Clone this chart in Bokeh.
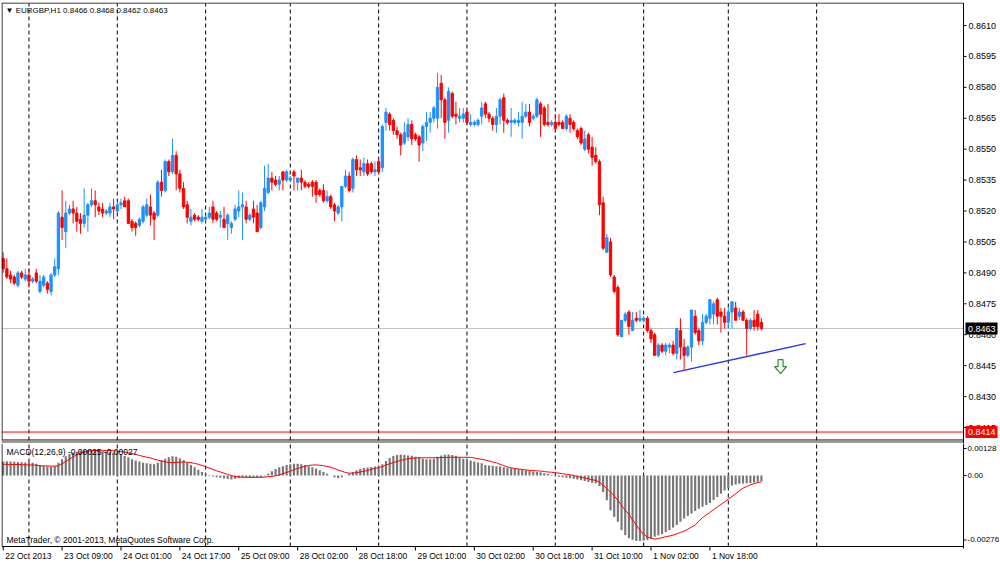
from bokeh.plotting import figure
from bokeh.layouts import column
from bokeh.models import ColumnDataSource, Label, Range1d
from bokeh.embed import file_html
from bokeh.resources import INLINE
from bokeh.core.properties import value

# ---------------- data (prices in pips: 8497 -> 0.8497) ----------------
opens = [
    8497, 8492, 8489, 8488, 8484, 8490, 8487, 8489, 8486, 8490,
    8481, 8484, 8485, 8481, 8489, 8492, 8517, 8510, 8519, 8521,
    8519, 8516, 8514, 8518, 8523, 8525, 8522, 8521, 8519, 8519,
    8522, 8520, 8523, 8525, 8525, 8515, 8514, 8513, 8515, 8518,
    8522, 8519, 8518, 8534, 8530, 8544, 8539, 8547, 8538, 8531,
    8523, 8515, 8518, 8517, 8515, 8516, 8517, 8522, 8519, 8517,
    8516, 8514, 8512, 8516, 8520, 8522, 8522, 8516, 8521, 8519,
    8512, 8522, 8529, 8536, 8535, 8533, 8539, 8535, 8535, 8539,
    8534, 8536, 8534, 8533, 8534, 8534, 8530, 8530, 8525, 8527,
    8523, 8519, 8522, 8532, 8537, 8531, 8545, 8541, 8539, 8543,
    8543, 8539, 8544, 8541, 8563, 8567, 8564, 8559, 8557, 8553,
    8556, 8562, 8557, 8556, 8553, 8561, 8563, 8565, 8565, 8582,
    8574, 8564, 8577, 8567, 8565, 8565, 8568, 8562, 8562, 8562,
    8566, 8572, 8567, 8565, 8562, 8566, 8575, 8564, 8563, 8563,
    8563, 8563, 8566, 8568, 8565, 8566, 8572, 8570, 8563, 8562,
    8563, 8563, 8563, 8560, 8565, 8563, 8559, 8560, 8550, 8557,
    8551, 8547, 8544, 8524, 8500, 8505, 8488, 8483, 8459, 8467,
    8471, 8462, 8468, 8467, 8467, 8468, 8462, 8460, 8450, 8455,
    8452, 8454, 8455, 8451, 8462, 8454, 8450, 8454, 8469, 8462,
    8457, 8466, 8468, 8470, 8477, 8471, 8469, 8466, 8471, 8473,
    8469, 8471, 8467, 8463, 8467, 8470, 8466,
]
highs = [
    8500, 8497, 8491, 8489, 8491, 8491, 8492, 8492, 8488, 8492,
    8489, 8489, 8486, 8490, 8497, 8520, 8530, 8525, 8523, 8525,
    8522, 8519, 8531, 8524, 8531, 8530, 8524, 8524, 8521, 8524,
    8526, 8524, 8526, 8527, 8526, 8516, 8515, 8517, 8523, 8526,
    8528, 8520, 8535, 8540, 8545, 8545, 8555, 8549, 8540, 8534,
    8525, 8521, 8519, 8518, 8521, 8518, 8522, 8525, 8520, 8520,
    8522, 8519, 8515, 8523, 8530, 8529, 8525, 8519, 8525, 8523,
    8525, 8542, 8543, 8539, 8537, 8537, 8539, 8540, 8537, 8540,
    8536, 8540, 8535, 8534, 8535, 8535, 8531, 8533, 8530, 8528,
    8524, 8523, 8532, 8540, 8539, 8546, 8547, 8545, 8546, 8545,
    8544, 8544, 8546, 8562, 8570, 8568, 8565, 8561, 8558, 8563,
    8565, 8564, 8558, 8557, 8562, 8568, 8568, 8571, 8587, 8586,
    8575, 8580, 8578, 8573, 8570, 8570, 8569, 8567, 8564, 8565,
    8573, 8573, 8568, 8566, 8570, 8575, 8577, 8565, 8570, 8565,
    8568, 8573, 8572, 8572, 8567, 8575, 8573, 8571, 8572, 8564,
    8567, 8567, 8564, 8567, 8567, 8564, 8560, 8561, 8559, 8558,
    8556, 8551, 8545, 8527, 8509, 8507, 8489, 8484, 8467, 8471,
    8472, 8471, 8471, 8472, 8469, 8469, 8463, 8461, 8456, 8456,
    8456, 8456, 8457, 8463, 8468, 8458, 8455, 8472, 8472, 8463,
    8470, 8470, 8477, 8476, 8478, 8473, 8473, 8473, 8476, 8476,
    8473, 8472, 8468, 8468, 8472, 8472, 8468,
]
lows = [
    8490, 8487, 8485, 8484, 8483, 8487, 8486, 8483, 8485, 8485,
    8480, 8483, 8480, 8479, 8488, 8489, 8506, 8502, 8518, 8514,
    8510, 8509, 8512, 8510, 8522, 8517, 8518, 8517, 8518, 8517,
    8516, 8519, 8521, 8522, 8514, 8510, 8508, 8512, 8514, 8517,
    8513, 8506, 8517, 8527, 8529, 8537, 8538, 8530, 8529, 8521,
    8514, 8513, 8515, 8515, 8514, 8515, 8516, 8514, 8515, 8512,
    8512, 8506, 8509, 8515, 8517, 8506, 8514, 8515, 8514, 8510,
    8511, 8520, 8528, 8530, 8532, 8530, 8530, 8534, 8534, 8530,
    8530, 8530, 8531, 8531, 8527, 8524, 8527, 8524, 8524, 8521,
    8515, 8518, 8515, 8531, 8529, 8529, 8537, 8537, 8537, 8537,
    8538, 8537, 8538, 8539, 8559, 8559, 8557, 8555, 8547, 8552,
    8554, 8552, 8554, 8544, 8549, 8554, 8558, 8563, 8560, 8565,
    8555, 8558, 8565, 8562, 8563, 8563, 8562, 8561, 8561, 8561,
    8562, 8565, 8563, 8559, 8558, 8562, 8558, 8562, 8556, 8562,
    8561, 8555, 8565, 8561, 8564, 8565, 8556, 8561, 8561, 8561,
    8559, 8561, 8560, 8559, 8558, 8559, 8555, 8552, 8549, 8548,
    8542, 8543, 8518, 8501, 8500, 8488, 8480, 8459, 8459, 8466,
    8460, 8462, 8466, 8466, 8466, 8461, 8456, 8450, 8449, 8451,
    8450, 8451, 8450, 8448, 8448, 8443, 8449, 8447, 8460, 8455,
    8455, 8465, 8465, 8465, 8465, 8461, 8463, 8463, 8463, 8467,
    8467, 8467, 8450, 8462, 8462, 8462, 8462,
]
closes = [
    8492, 8488, 8487, 8485, 8490, 8488, 8489, 8486, 8487, 8486,
    8486, 8488, 8482, 8489, 8493, 8519, 8512, 8519, 8521, 8519,
    8515, 8514, 8518, 8523, 8525, 8523, 8520, 8519, 8520, 8522,
    8521, 8523, 8524, 8522, 8514, 8512, 8512, 8516, 8522, 8523,
    8518, 8516, 8534, 8530, 8544, 8539, 8547, 8538, 8531, 8522,
    8517, 8517, 8516, 8516, 8517, 8517, 8519, 8516, 8516, 8518,
    8512, 8518, 8514, 8521, 8522, 8523, 8516, 8518, 8517, 8510,
    8524, 8531, 8536, 8534, 8533, 8535, 8535, 8539, 8536, 8537,
    8536, 8534, 8532, 8532, 8532, 8528, 8528, 8525, 8527, 8522,
    8520, 8522, 8532, 8537, 8530, 8545, 8540, 8540, 8543, 8538,
    8539, 8540, 8539, 8561, 8568, 8562, 8559, 8557, 8552, 8558,
    8562, 8555, 8555, 8552, 8561, 8563, 8565, 8570, 8580, 8574,
    8563, 8578, 8566, 8566, 8566, 8567, 8563, 8563, 8563, 8564,
    8570, 8567, 8565, 8562, 8566, 8574, 8564, 8563, 8564, 8564,
    8564, 8566, 8568, 8563, 8566, 8574, 8567, 8562, 8562, 8563,
    8560, 8562, 8560, 8566, 8562, 8560, 8556, 8553, 8555, 8550,
    8546, 8544, 8523, 8502, 8507, 8489, 8481, 8460, 8467, 8470,
    8464, 8467, 8467, 8468, 8468, 8462, 8458, 8450, 8455, 8452,
    8455, 8455, 8451, 8463, 8454, 8450, 8454, 8472, 8461, 8457,
    8466, 8469, 8477, 8475, 8469, 8469, 8466, 8471, 8476, 8467,
    8471, 8467, 8463, 8467, 8464, 8464, 8463,
]
# MACD(12,26,9) main (histogram) and signal, in units of 0.00001
macd_main = [
    60, 61, 60, 59, 58, 57, 56, 57, 55, 50,
    45, 41, 38, 36, 40, 55, 70, 82, 92, 98,
    102, 106, 108, 109, 110, 110, 108, 105, 103, 102,
    100, 98, 92, 85, 78, 70, 64, 60, 55, 52,
    50, 48, 55, 65, 72, 78, 82, 80, 74, 65,
    55, 45, 35, 25, 15, 7, 2, -4, -8, -10,
    -13, -15, -17, -14, -12, -10, -10, -10, -10, -9,
    -8, -3, 8, 18, 28, 35, 40, 45, 48, 50,
    50, 48, 45, 40, 35, 30, 22, 15, 8, 0,
    -8, -12, -8, 0, 8, 15, 22, 28, 32, 34,
    36, 38, 38, 48, 62, 75, 83, 88, 90, 88,
    86, 84, 80, 76, 72, 70, 70, 72, 80, 86,
    89, 90, 88, 84, 78, 72, 68, 64, 60, 56,
    52, 45, 43, 42, 40, 38, 35, 33, 31, 29,
    27, 25, 22, 20, 17, 15, 14, 10, 6, 2,
    -2, -5, -8, -10, -12, -14, -17, -20, -24, -28,
    -31, -33, -45, -71, -106, -149, -177, -198, -234, -255,
    -268, -275, -280, -280, -279, -276, -269, -262, -256, -251,
    -242, -234, -223, -212, -198, -184, -173, -163, -152, -142,
    -134, -126, -118, -105, -92, -78, -64, -54, -43, -38,
    -35, -34, -33, -32, -30, -27, -25,
]
macd_signal = [
    48, 48, 47, 47, 47, 46, 46, 45, 45, 44,
    42, 41, 41, 40, 40, 42, 50, 60, 70, 80,
    88, 95, 100, 104, 106, 107, 108, 108, 107, 107,
    106, 104, 102, 100, 97, 94, 90, 86, 82, 78,
    75, 70, 66, 62, 58, 56, 55, 56, 57, 58,
    57, 55, 52, 48, 43, 38, 32, 26, 20, 15,
    10, 5, 0, -5, -6, -7, -8, -8, -8, -8,
    -8, -7, -5, -4, -1, 2, 8, 13, 18, 25,
    30, 35, 40, 43, 45, 45, 44, 42, 39, 35,
    30, 24, 18, 13, 10, 10, 12, 15, 18, 22,
    26, 30, 34, 38, 45, 50, 55, 60, 65, 68,
    72, 74, 75, 76, 76, 76, 76, 76, 76, 77,
    77, 78, 78, 78, 78, 78, 78, 77, 75, 72,
    69, 66, 62, 58, 54, 48, 42, 37, 33, 30,
    28, 26, 24, 22, 21, 20, 19, 17, 15, 14,
    12, 10, 8, 5, 3, 0, -4, -8, -11, -14,
    -18, -21, -28, -42, -56, -71, -88, -106, -128, -149,
    -166, -190, -212, -234, -252, -263, -269, -272, -270, -266,
    -262, -259, -255, -250, -244, -238, -230, -221, -212, -196,
    -180, -169, -158, -146, -135, -124, -113, -101, -90, -78,
    -66, -54, -47, -40, -35, -30, -27,
]
price_ticks = [0.8610, 0.8595, 0.8580, 0.8565, 0.8550, 0.8535, 0.8520,
               0.8505, 0.8490, 0.8475, 0.8460, 0.8445, 0.8430, 0.8415]
price_tick_labels = ["0.8610", "0.8595", "0.8580", "0.8565", "0.8550", "0.8535", "0.8520",
                     "0.8505", "0.8490", "0.8475", "0.8460", "0.8445", "0.8430", "0.8415"]
macd_ticks = [0.00128, 0.0, -0.00276]
macd_tick_labels = ["0.00128", "0.00", "-0.00276"]
day_separators = [7, 31, 55, 78, 102, 126, 150, 174, 197, 221]
date_tick_idx = [0, 16, 32, 48, 64, 80, 96, 112, 128, 144, 160, 176, 192]
date_tick_labels = ["22 Oct 2013", "23 Oct 09:00", "24 Oct 01:00", "24 Oct 17:00",
                    "25 Oct 09:00", "28 Oct 02:00", "28 Oct 18:00", "29 Oct 10:00",
                    "30 Oct 02:00", "30 Oct 18:00", "31 Oct 10:00", "1 Nov 02:00",
                    "1 Nov 18:00"]
header_text = "\u25bc EURGBP,H1  0.8466 0.8468 0.8462 0.8463"
macd_text = "MACD(12,26,9) -0.00025 -0.00027"
copyright_text = "MetaTrader, \u00a9 2001-2013, MetaQuotes Software Corp."
bid_price = 0.8463
bid_tag = "0.8463"
level_price = 0.84128
level_tag = "0.8414"
trend_x = [182.1, 218.0]
trend_y = [0.84416, 0.84557]
arrow_x = 211.2
arrow_y = 0.84445

assert len(opens) == len(highs) == len(lows) == len(closes) == len(macd_main) == len(macd_signal)

# ---------------- layout constants (page pixels) ----------------
FONT = "Liberation Sans"
FRAME_W = 998            # frame spans page x 1 .. 999
CHART_W = 962            # chart area page x 1 .. 963, then the price scale
MAIN_TOP, MAIN_BOT = 2, 443
MACD_TOP, MACD_BOT = 443, 561
X0, X1 = -0.46, 260.9
dx = (X1 - X0) / CHART_W
XE = X0 + FRAME_W * dx
PY0, PY1 = 0.840724, 0.862116
dp = (PY1 - PY0) / (MAIN_BOT - MAIN_TOP)
MY0, MY1 = -0.0036808, 0.0013696
dm = (MY1 - MY0) / (MACD_BOT - MACD_TOP)


def fx(px):      # page x -> bar index coordinate
    return X0 + (px - 1) * dx


def fp(py):      # page y -> price (main panel)
    return PY1 - (py - MAIN_TOP) * dp


def fm(py):      # page y -> macd value (macd panel)
    return MY1 - (py - MACD_TOP) * dm


n = len(closes)
idx = list(range(n))
O = [v / 10000 for v in opens]
H = [v / 10000 for v in highs]
L = [v / 10000 for v in lows]
C = [v / 10000 for v in closes]
cols = ["#1E90FF" if c >= o else "#FF0000" for o, c in zip(O, C)]
src = ColumnDataSource(dict(x=idx, h=H, l=L,
                            top=[max(o, c) for o, c in zip(O, C)],
                            bot=[min(o, c) for o, c in zip(O, C)],
                            col=cols))


def base_fig(height, yr, top_border):
    f = figure(frame_width=FRAME_W, frame_height=height,
               x_range=Range1d(X0, XE), y_range=yr,
               x_axis_location=None, y_axis_location=None,
               toolbar_location=None, output_backend="svg",
               min_border_left=1, min_border_right=0, min_border_top=top_border,
               min_border_bottom=0, outline_line_color=None,
               background_fill_color="white", border_fill_color="white")
    f.grid.visible = False
    return f


# ---------------- main price panel ----------------
main = base_fig(MAIN_BOT - MAIN_TOP, Range1d(PY0, PY1), MAIN_TOP)

# day separators
main.segment(x0=day_separators, x1=day_separators,
             y0=[fp(440)] * len(day_separators), y1=[fp(3)] * len(day_separators),
             line_color="black", line_dash="4 3", line_width=1)
# bid and level lines
main.segment(x0=[X0, X0], x1=[X1, X1], y0=[bid_price, level_price], y1=[bid_price, level_price],
             line_color=["#C0C0C0", "#FF0000"], line_width=1)

# candles
main.segment(x0="x", y0="l", x1="x", y1="h", line_color="col", line_width=1, source=src)
main.vbar(x="x", width=0.62, top="top", bottom="bot", fill_color="col",
          line_color="col", line_width=1, source=src)

# trend line and hollow down arrow (shape given as pixel offsets around its anchor)
main.line(trend_x, trend_y, line_color="#2F2FEF", line_width=1.4)
arrow_shape = [(-2.5, -7), (2.5, -7), (2.5, 0), (6, 0), (0, 7), (-6, 0), (-2.5, 0)]
main.patch([arrow_x + sx * dx for sx, sy in arrow_shape],
           [arrow_y - sy * dp for sx, sy in arrow_shape],
           fill_color="white", line_color="#2E8B2E", line_width=1.2)

# chart box, splitter band and price scale
main.segment(x0=[fx(1.5), fx(1.5), fx(1.5)], x1=[X1, fx(1.5), X1],
             y0=[fp(2.5), fp(2.5), fp(439.5)], y1=[fp(2.5), fp(440), fp(439.5)],
             line_color="black", line_width=1)
main.quad(left=[X0], right=[X1], bottom=[fp(443)], top=[fp(440)],
          fill_color="#9A9A9A", line_color=None)
main.segment(x0=[X1], x1=[X1], y0=[fp(443)], y1=[fp(2.5)], line_color="black", line_width=1)
main.segment(x0=[X1] * len(price_ticks), x1=[X1 + 3 * dx] * len(price_ticks),
             y0=price_ticks, y1=price_ticks, line_color="black", line_width=1)
main.text(x=[X1 + 5 * dx] * len(price_ticks), y=price_ticks, text=price_tick_labels,
          text_font=value(FONT), text_font_size=value("9px"), text_color="black",
          text_align="left", text_baseline="middle")

# price tags
main.quad(left=[X1 + 2 * dx, X1 + 2 * dx], right=[X1 + 34 * dx, X1 + 34 * dx],
          bottom=[bid_price - 6 * dp, level_price - 6 * dp],
          top=[bid_price + 6 * dp, level_price + 6 * dp],
          fill_color=["black", "#FF0000"], line_color=None)
main.text(x=[X1 + 4.5 * dx, X1 + 4.5 * dx], y=[bid_price, level_price], text=[bid_tag, level_tag],
          text_font=value(FONT), text_font_size=value("9px"), text_color="white",
          text_align="left", text_baseline="middle")

main.add_layout(Label(x=fx(5), y=fp(9.5), text=header_text, text_align="left",
                      text_baseline="middle", text_font=FONT, text_font_size="8px",
                      text_color="black"))

# ---------------- MACD panel ----------------
macdf = base_fig(MACD_BOT - MACD_TOP, Range1d(MY0, MY1), 0)

macdf.segment(x0=day_separators, x1=day_separators,
              y0=[fm(546)] * len(day_separators), y1=[fm(443)] * len(day_separators),
              line_color="black", line_dash="4 3", line_width=1)
macdf.vbar(x=idx, width=0.58, top=[v / 100000 for v in macd_main], bottom=0,
           fill_color="#767676", line_color=None)
macdf.line(idx, [v / 100000 for v in macd_signal], line_color="#FF0000", line_width=1)

# box
macdf.segment(x0=[fx(1.5), fx(1.5)], x1=[fx(1.5), X1], y0=[fm(443), fm(546)],
              y1=[fm(546), fm(546)], line_color="black", line_width=1)
macdf.segment(x0=[X1], x1=[X1], y0=[fm(548)], y1=[fm(443)], line_color="black", line_width=1)
# macd scale (labels kept inside the panel, as the terminal does)
macd_label_y = [min(t, fm(448)) for t in macd_ticks]
macdf.segment(x0=[X1] * 3, x1=[X1 + 3 * dx] * 3, y0=macd_label_y, y1=macd_label_y,
              line_color="black", line_width=1)
macdf.text(x=[X1 + 4 * dx] * 3, y=macd_label_y, text=macd_tick_labels,
           text_font=value(FONT), text_font_size=value("8px"), text_color="black",
           text_align="left", text_baseline="middle")
# time scale
macdf.segment(x0=date_tick_idx, x1=date_tick_idx,
              y0=[fm(546)] * len(date_tick_idx), y1=[fm(550)] * len(date_tick_idx),
              line_color="black", line_width=1)
macdf.text(x=[i + 2 * dx for i in date_tick_idx], y=[fm(555)] * len(date_tick_idx),
           text=date_tick_labels, text_font=value(FONT), text_font_size=value("8.5px"),
           text_color="black", text_align="left", text_baseline="middle")

macdf.add_layout(Label(x=fx(6), y=fm(451), text=macd_text, text_align="left",
                       text_baseline="middle", text_font=FONT, text_font_size="8.5px",
                       text_color="black"))
macdf.add_layout(Label(x=fx(6), y=fm(539.5), text=copyright_text, text_align="left",
                       text_baseline="middle", text_font=FONT, text_font_size="8.5px",
                       text_color="black"))

layout = column(main, macdf, spacing=0)
open("out.html", "w").write(file_html(layout, INLINE, title="EURGBP,H1"))
